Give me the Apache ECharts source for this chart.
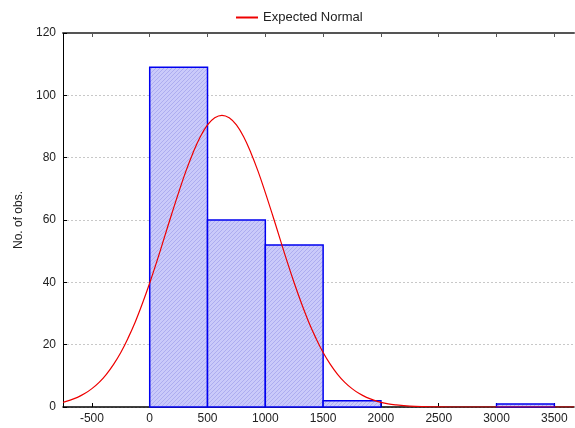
<!DOCTYPE html>
<html>
<head>
<meta charset="utf-8">
<script src="https://cdn.jsdelivr.net/npm/echarts@6/dist/echarts.min.js"></script>
<style>
  html, body { margin: 0; padding: 0; background: #fff; }
  #main { width: 575px; height: 428px; }
</style>
</head>
<body>
<div id="main"></div>
<script>
// histogram bins (lower edge, upper edge) and counts
var binStart = [0, 500, 1000, 1500, 2000, 2500, 3000];
var binEnd = [500, 1000, 1500, 2000, 2500, 3000, 3500];
var counts = [109, 60, 52, 2, 0, 0, 1];

// expected normal curve
var curveX = [-750, -687.5, -625, -562.5, -500, -437.5, -375, -312.5, -250, -187.5, -125, -62.5,
  0, 62.5, 125, 187.5, 250, 312.5, 375, 437.5, 500, 562.5, 625, 687.5, 750, 812.5, 875, 937.5,
  1000, 1062.5, 1125, 1187.5, 1250, 1312.5, 1375, 1437.5, 1500, 1562.5, 1625, 1687.5, 1750,
  1812.5, 1875, 1937.5, 2000, 2062.5, 2125, 2250, 2375, 2500, 2750, 3000, 3250, 3500, 3670];
var curveY = [1.5, 2.2, 3.1, 4.3, 5.9, 7.9, 10.5, 13.7, 17.5, 22.1, 27.3, 33.3,
  39.8, 46.8, 54.2, 61.6, 68.8, 75.6, 81.6, 86.7, 90.5, 92.8, 93.6, 92.8, 90.5, 86.7, 81.6, 75.6,
  68.8, 61.6, 54.2, 46.8, 39.8, 33.3, 27.3, 22.1, 17.5, 13.7, 10.5, 7.9, 5.9,
  4.3, 3.1, 2.2, 1.5, 1.0, 0.7, 0.3, 0.12, 0.04, 0, 0, 0, 0, 0];

var xTicks = [-500, 0, 500, 1000, 1500, 2000, 2500, 3000, 3500];

// hatch fill for the bars
var hatch = document.createElement('canvas');
hatch.width = 4; hatch.height = 4;
var hc = hatch.getContext('2d');
hc.fillStyle = '#cacafa';
hc.fillRect(0, 0, 4, 4);
hc.strokeStyle = '#adadf0';
hc.lineWidth = 1;
hc.beginPath();
hc.moveTo(0, 4); hc.lineTo(4, 0);
hc.moveTo(-1, 1); hc.lineTo(1, -1);
hc.moveTo(3, 5); hc.lineTo(5, 3);
hc.stroke();

var barData = [];
for (var i = 0; i < counts.length; i++) {
  if (counts[i] > 0) barData.push([binStart[i], binEnd[i], counts[i]]);
}
var lineData = curveX.map(function (x, i) { return [x, curveY[i]]; });

var chart = echarts.init(document.getElementById('main'));
chart.setOption({
  animation: false,
  textStyle: { fontFamily: 'Liberation Sans, Arial, sans-serif' },
  legend: {
    top: 6,
    left: 231,
    itemWidth: 22,
    itemHeight: 2,
    itemGap: 6,
    textStyle: { fontSize: 13, color: '#222' },
    data: [{ name: 'Expected Normal', icon: 'rect' }]
  },
  grid: { left: 63, right: 1, top: 33, bottom: 21 },
  xAxis: [{
    type: 'value',
    min: -750,
    max: 3670,
    interval: 500,
    position: 'bottom',
    axisLine: { onZero: false, lineStyle: { color: '#000', width: 1.5 } },
    axisTick: { inside: true, length: 4, lineStyle: { color: '#000' },
      customValues: xTicks },
    axisLabel: { fontSize: 12, color: '#222', margin: 6, customValues: xTicks,
      formatter: function (v) { return String(v); } },
    splitLine: { show: false }
  }, {
    type: 'value',
    min: -750,
    max: 3670,
    position: 'top',
    axisLine: { show: true, onZero: false, lineStyle: { color: '#555', width: 2 } },
    axisTick: { show: true, inside: true, length: 4, lineStyle: { color: '#555' },
      customValues: xTicks },
    axisLabel: { show: false },
    splitLine: { show: false }
  }],
  yAxis: {
    type: 'value',
    min: 0,
    max: 120,
    interval: 20,
    name: 'No. of obs.',
    nameLocation: 'middle',
    nameGap: 38,
    nameTextStyle: { fontSize: 12, color: '#222' },
    axisLine: { show: true, onZero: false, lineStyle: { color: '#000', width: 1 } },
    axisTick: { show: true, inside: true, length: 4, lineStyle: { color: '#000' } },
    axisLabel: { fontSize: 12, color: '#222', margin: 7 },
    splitLine: { show: true, lineStyle: { color: '#c8c8c8', type: [2, 2], width: 1 } }
  },
  series: [{
    type: 'custom',
    name: 'bars',
    data: barData,
    encode: { x: [0, 1], y: 2 },
    renderItem: function (params, api) {
      var p0 = api.coord([api.value(0), api.value(2)]);
      var p1 = api.coord([api.value(1), 0]);
      return {
        type: 'rect',
        shape: { x: p0[0], y: p0[1], width: p1[0] - p0[0], height: p1[1] - p0[1] },
        style: { fill: { image: hatch, repeat: 'repeat' }, stroke: '#0000f0', lineWidth: 1.5 }
      };
    },
    z: 2
  }, {
    type: 'line',
    name: 'Expected Normal',
    data: lineData,
    smooth: 0.4,
    showSymbol: false,
    lineStyle: { color: '#ee0000', width: 1.2 },
    itemStyle: { color: '#ee0000' },
    z: 3
  }]
});
</script>
</body>
</html>
